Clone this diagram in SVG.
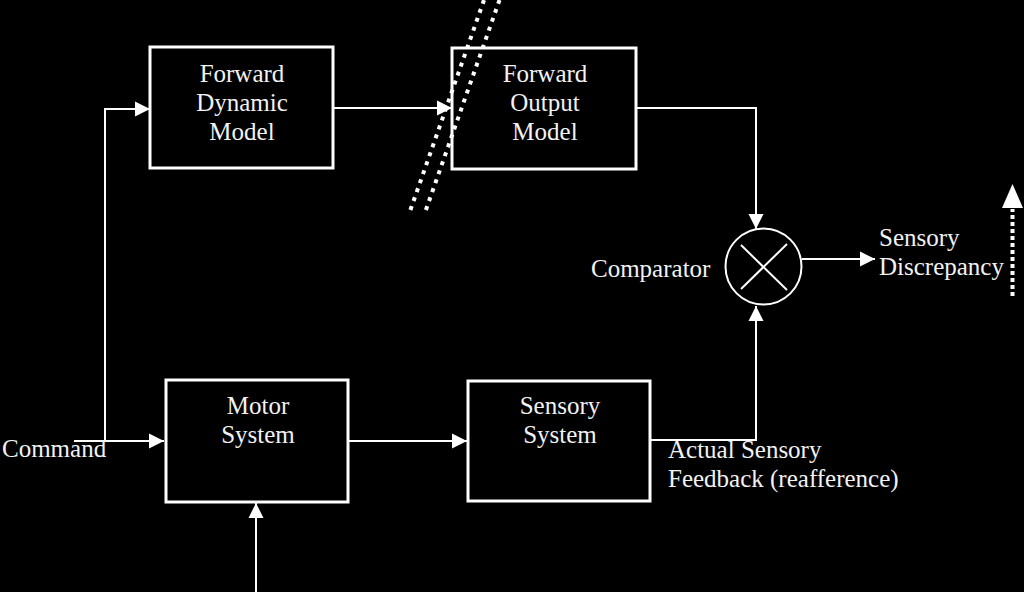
<svg xmlns="http://www.w3.org/2000/svg" width="1024" height="592" viewBox="0 0 1024 592">
<style>
.bg{fill:#000}
.box{fill:#000;stroke:#fff;stroke-width:3}
.t{font-family:"Liberation Serif","Times New Roman",serif;font-size:25px;fill:#f2f2f2}
.c{text-anchor:middle}
.ln{fill:none;stroke:#fff;stroke-width:2}
.dot{fill:none;stroke:#fff;stroke-width:4}
</style>
<defs>
<marker id="ah" markerWidth="16" markerHeight="16" refX="15" refY="8" orient="auto" markerUnits="userSpaceOnUse">
<path d="M0,0.5 L15,8 L0,15.5 Z" fill="#fff"/>
</marker>
</defs>
<rect class="bg" x="0" y="0" width="1024" height="592"/>
<g id="connectors">
<path class="ln" d="M74,441 H164" marker-end="url(#ah)"/>
<path class="ln" d="M105,441 V109 H150" marker-end="url(#ah)"/>
<path class="ln" d="M333,108 H452" marker-end="url(#ah)"/>
<path class="ln" d="M636,108 H756 V229" marker-end="url(#ah)"/>
<path class="ln" d="M802,259 H875" marker-end="url(#ah)"/>
<path class="ln" d="M348,441 H467" marker-end="url(#ah)"/>
<path class="ln" d="M650,440 H756 V306" marker-end="url(#ah)"/>
<path class="ln" d="M256,592 V503" marker-end="url(#ah)"/>
<line class="dot" x1="1012.5" y1="296" x2="1012.5" y2="209" stroke-dasharray="4 3"/>
<polygon points="1002,208 1023,208 1012.5,184" fill="#fff"/>
</g>
<g id="forward-dynamic-model">
<rect class="box" x="150" y="47" width="183" height="121"/>
<text class="t c" x="242" y="82">Forward</text>
<text class="t c" x="242" y="111">Dynamic</text>
<text class="t c" x="242" y="140">Model</text>
</g>
<g id="forward-output-model">
<rect class="box" x="452" y="48" width="184" height="121"/>
<text class="t c" x="545" y="82">Forward</text>
<text class="t c" x="545" y="111">Output</text>
<text class="t c" x="545" y="140">Model</text>
</g>
<g id="delay-marks">
<line class="dot" x1="484" y1="0" x2="409" y2="214" stroke-dasharray="4 5.5"/>
<line class="dot" x1="499.5" y1="0" x2="424.5" y2="214" stroke-dasharray="4 5.5"/>
</g>
<g id="comparator">
<circle cx="763.5" cy="266.5" r="38" fill="none" stroke="#fff" stroke-width="2"/>
<line class="ln" x1="741" y1="245" x2="787" y2="290"/>
<line class="ln" x1="741" y1="289" x2="787" y2="244"/>
<text class="t" x="591" y="277">Comparator</text>
</g>
<g id="sensory-discrepancy">
<text class="t" x="879" y="246">Sensory</text>
<text class="t" x="879" y="275">Discrepancy</text>
</g>
<g id="command">
<text class="t" x="2" y="457">Command</text>
</g>
<g id="motor-system">
<rect class="box" x="166" y="380" width="182" height="122"/>
<text class="t c" x="258" y="414">Motor</text>
<text class="t c" x="258" y="443">System</text>
</g>
<g id="sensory-system">
<rect class="box" x="468" y="381" width="182" height="120"/>
<text class="t c" x="560" y="414">Sensory</text>
<text class="t c" x="560" y="443">System</text>
</g>
<g id="feedback-label">
<text class="t" x="668" y="458">Actual Sensory</text>
<text class="t" x="668" y="487">Feedback (reafference)</text>
</g>
</svg>
